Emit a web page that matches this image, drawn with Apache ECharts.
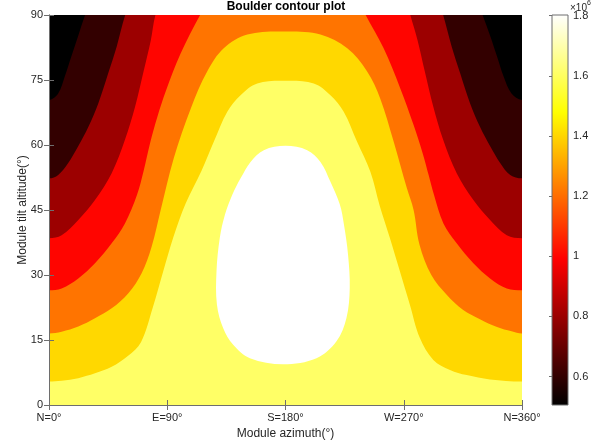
<!DOCTYPE html>
<html>
<head>
<meta charset="utf-8">
<title>Boulder contour plot</title>
<script src="https://cdn.jsdelivr.net/npm/echarts@6/dist/echarts.min.js"></script>
<style>
  html, body { margin: 0; padding: 0; background: #ffffff; }
  #chart { width: 607px; height: 446px; }
</style>
</head>
<body>
<div id="chart"></div>
<script>
// Axis ticks
const azimuthTicks = [0, 90, 180, 270, 360];
const azimuthLabels = ['N=0°', 'E=90°', 'S=180°', 'W=270°', 'N=360°'];
const tiltTicks = [0, 15, 30, 45, 60, 75, 90];

// Contour levels (×10^6) and colour-bar range
const contourLevels = [0.6, 0.8, 1.0, 1.2, 1.4, 1.6, 1.8];
const colorRange = [0.5057, 1.802];
const colorbarTicks = [0.6, 0.8, 1.0, 1.2, 1.4, 1.6, 1.8];

// Band fills (hot colormap), lowest band first
const bandColors = ['#000000', '#330000', '#9c0000', '#ff0500', '#ff7400', '#ffd800', '#ffff66', '#ffffff'];

// Contour lines as [azimuth°, tilt°]; everything below a line is at or above its level.
// Points above 90° continue the line past the top of the plot.
const contour06 = [[0, 70.4], [7, 71.9], [12, 75.8], [17, 80.4], [22, 85], [27.5, 90], [40, 100], [180, 112],
  [318, 100], [330, 90], [336, 85], [341, 80.4], [346, 75.8], [352, 71.9], [360, 70.4]];
const contour08 = [[0, 52.3], [7, 53.1], [14.5, 55.8], [22, 59.6], [30, 64.2], [37.5, 69.6], [45, 76.5], [51.5, 82.7],
  [58, 90], [70, 100], [180, 112], [290, 100], [300, 90], [306.5, 82.7], [313, 76.5], [320.5, 69.6], [328, 64.2],
  [336, 59.6], [343.5, 55.8], [351, 53.1], [360, 52.3]];
const contour10 = [[0, 38.5], [9.6, 39.2], [22.3, 42.7], [35, 47.3], [47.7, 53.5], [57.8, 61.2], [65.5, 68.8], [72, 77],
  [77.5, 84.2], [81, 90], [92, 100], [180, 112], [266, 100], [275, 90], [280.5, 84.2], [286, 77], [292.5, 68.8],
  [300, 61.2], [310.3, 53.5], [323, 47.3], [335.7, 42.7], [348.4, 39.2], [360, 38.5]];
const contour12 = [[0, 26.5], [9.6, 26.9], [22.3, 29.2], [35, 32.7], [47.7, 37.3], [57.8, 41.9], [67, 48.5], [72, 54],
  [77, 60.5], [82.5, 66.5], [89, 72.5], [100, 81], [115, 90], [130, 98], [180, 104], [228, 98], [241, 90],
  [254.7, 82.3], [267.3, 73.1], [277.5, 64.6], [284.5, 58], [289, 53], [293, 48.5], [300.2, 41.9], [310.3, 37.3],
  [323, 32.7], [335.7, 29.2], [348.4, 26.9], [360, 26.5]];
const contour14 = [[0, 16.5], [9.6, 16.9], [22.3, 18.1], [35, 20], [47.7, 22.3], [60.4, 25.8], [70.5, 30.4],
  [78.1, 36.5], [85, 45], [95, 57], [108, 68.5], [120.5, 77], [133, 82.3], [151, 85.5], [180, 86.2], [206.6, 85.5],
  [227, 82.3], [242, 77], [252, 70.8], [262.3, 60.8], [272.4, 50], [277.5, 45], [282, 37], [291, 30], [302.5, 25.5],
  [315, 22], [328, 19.8], [341, 18], [352, 17], [360, 16.5]];
const contour16 = [[0, 5.4], [9.6, 5.6], [22.3, 6.2], [35, 7.3], [47.7, 8.8], [60, 11.3], [70, 14.5], [79, 22.5],
  [87, 30.9], [94.5, 38.6], [104, 46.5], [116, 54], [125.5, 60.8], [135.7, 67.7], [145.8, 71.5], [158.5, 74.2],
  [180, 74.8], [201.5, 74.2], [214.2, 71.5], [224.3, 67.7], [234.4, 60.8], [244.6, 53.8], [251.7, 46], [259.4, 38.6],
  [267, 30.9], [274.6, 23.2], [282.2, 15.5], [292.5, 10.4], [305.2, 8.1], [317.9, 6.9], [335.6, 5.9], [360, 5.4]];
// Highest level: a closed loop around the maximum
const contour18 = [[180, 59.8], [196.5, 58.8], [206.6, 56.1], [214.2, 51.5], [221.3, 46.3], [224.5, 41.6],
  [227.6, 34.7], [228.9, 27], [226.4, 20.1], [218.8, 14.7], [203.6, 10.8], [178.2, 9.4], [152.9, 10.8],
  [140.2, 13.9], [132.6, 17.7], [127.8, 23.2], [127.5, 30.9], [130, 38.6], [134, 44], [139.5, 48.5],
  [145.8, 52.3], [153.4, 56.1], [163.5, 58.8]];

const FONT = "'Liberation Sans', Arial, Helvetica, sans-serif";
const TEXT = '#262626';
const AXIS = '#6e6e6e';

// Close an open contour line into the region beneath it (extends past the plot edges, then clipped)
function regionBelow(line) {
  const first = line[0], last = line[line.length - 1];
  return [[-40, first[1]]].concat(line, [[400, last[1]], [400, -60], [-40, -60]]);
}

const regions = [
  { poly: regionBelow(contour06), color: bandColors[1] },
  { poly: regionBelow(contour08), color: bandColors[2] },
  { poly: regionBelow(contour10), color: bandColors[3] },
  { poly: regionBelow(contour12), color: bandColors[4] },
  { poly: regionBelow(contour14), color: bandColors[5] },
  { poly: regionBelow(contour16), color: bandColors[6] },
  { poly: contour18, color: bandColors[7] }
];

const chart = echarts.init(document.getElementById('chart'), null, { renderer: 'canvas' });

const bandSeries = regions.map((r, i) => ({
  type: 'custom',
  coordinateSystem: 'cartesian2d',
  xAxisIndex: 0,
  yAxisIndex: 0,
  clip: true,
  silent: true,
  z: 2 + i,
  data: [[0, 0]],
  renderItem: (params, api) => ({
    type: 'polygon',
    shape: { points: r.poly.map(p => api.coord(p)), smooth: 0.35 },
    style: { fill: r.color, stroke: null }
  })
}));

const colorbarSeries = {
  type: 'custom',
  coordinateSystem: 'cartesian2d',
  xAxisIndex: 2,
  yAxisIndex: 2,
  silent: true,
  z: 2,
  data: [[0, colorRange[0], colorRange[1]]],
  renderItem: (params, api) => {
    const topLeft = api.coord([0, api.value(2)]);
    const bottomRight = api.coord([1, api.value(1)]);
    return {
      type: 'rect',
      shape: {
        x: topLeft[0], y: topLeft[1],
        width: bottomRight[0] - topLeft[0], height: bottomRight[1] - topLeft[1]
      },
      style: {
        fill: new echarts.graphic.LinearGradient(0, 1, 0, 0, [
          { offset: 0, color: '#000000' },
          { offset: 0.375, color: '#ff0000' },
          { offset: 0.75, color: '#ffff00' },
          { offset: 1, color: '#ffffff' }
        ]),
        stroke: AXIS,
        lineWidth: 1
      }
    };
  }
};

const tickStyle = { show: true, inside: true, length: 5, lineStyle: { color: AXIS, width: 1 } };

chart.setOption({
  animation: false,
  backgroundColor: '#ffffff',
  title: {
    text: 'Boulder contour plot',
    left: 286,
    top: 1,
    padding: 0,
    textAlign: 'center',
    textStyle: { fontFamily: FONT, fontSize: 12, fontWeight: 'bold', color: '#000000' }
  },
  grid: [
    { left: 49, top: 15, width: 473, height: 390, show: true, backgroundColor: bandColors[0], borderWidth: 0 },
    { left: 552, top: 15, width: 16, height: 390, show: false }
  ],
  graphic: [{
    type: 'text',
    left: 570,
    top: 0,
    style: {
      text: '{b|×10}{s|6}',
      fill: TEXT,
      rich: {
        b: { fontFamily: FONT, fontSize: 10, fill: TEXT, verticalAlign: 'bottom', lineHeight: 13 },
        s: { fontFamily: FONT, fontSize: 7, fill: TEXT, verticalAlign: 'top', lineHeight: 13 }
      }
    }
  }],
  xAxis: [
    {
      type: 'value', gridIndex: 0, position: 'bottom', min: 0, max: 360, interval: 90, z: 10,
      axisLine: { show: true, lineStyle: { color: AXIS, width: 1 } },
      axisTick: tickStyle,
      splitLine: { show: false },
      axisLabel: {
        margin: 7, fontFamily: FONT, fontSize: 11, color: TEXT,
        formatter: v => azimuthLabels[azimuthTicks.indexOf(v)]
      },
      name: 'Module azimuth(°)', nameLocation: 'middle', nameGap: 23, nameMoveOverlap: false,
      nameTextStyle: { fontFamily: FONT, fontSize: 12, color: TEXT }
    },
    {
      type: 'value', gridIndex: 0, position: 'top', min: 0, max: 360, interval: 90, z: 10,
      axisLine: { show: true, lineStyle: { color: AXIS, width: 1 } },
      axisTick: tickStyle,
      axisLabel: { show: false },
      splitLine: { show: false }
    },
    {
      type: 'value', gridIndex: 1, min: 0, max: 1, show: false
    }
  ],
  yAxis: [
    {
      type: 'value', gridIndex: 0, position: 'left', min: 0, max: 90, interval: 15, z: 10,
      axisLine: { show: true, lineStyle: { color: AXIS, width: 1 } },
      axisTick: tickStyle,
      splitLine: { show: false },
      axisLabel: {
        margin: 6, fontFamily: FONT, fontSize: 11, color: TEXT,
        formatter: v => (tiltTicks.includes(v) ? String(v) : '')
      },
      name: 'Module tilt altitude(°)', nameLocation: 'middle', nameGap: 20, nameRotate: 90,
      nameMoveOverlap: false,
      nameTextStyle: { fontFamily: FONT, fontSize: 12, color: TEXT }
    },
    {
      type: 'value', gridIndex: 0, position: 'right', min: 0, max: 90, interval: 15, z: 10,
      axisLine: { show: true, lineStyle: { color: AXIS, width: 1 } },
      axisTick: tickStyle,
      axisLabel: { show: false },
      splitLine: { show: false }
    },
    {
      type: 'value', gridIndex: 1, position: 'right', min: colorRange[0], max: colorRange[1], z: 10,
      axisLine: { show: false },
      axisTick: {
        show: true, inside: true, length: 3, customValues: colorbarTicks,
        lineStyle: { color: AXIS, width: 1 }
      },
      splitLine: { show: false },
      axisLabel: {
        margin: 5, fontFamily: FONT, fontSize: 11, color: TEXT,
        customValues: colorbarTicks,
        formatter: v => String(Math.round(v * 10) / 10)
      }
    }
  ],
  series: bandSeries.concat([colorbarSeries])
});
</script>
</body>
</html>
